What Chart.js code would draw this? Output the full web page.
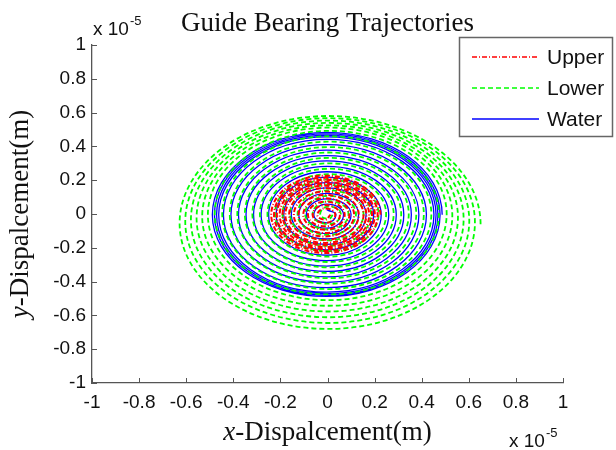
<!DOCTYPE html>
<html>
<head>
<meta charset="utf-8">
<script src="https://cdn.jsdelivr.net/npm/chart.js@4.4.1/dist/chart.umd.min.js"></script>
<style>
  html, body { margin: 0; padding: 0; background: #fff; }
  #wrap { width: 616px; height: 450px; }
</style>
</head>
<body>
<div id="wrap"><canvas id="trajChart" width="616" height="450"></canvas></div>
<script>
// axis ticks (units of 1e-5 m)
const tickVals = [-1, -0.8, -0.6, -0.4, -0.2, 0, 0.2, 0.4, 0.6, 0.8, 1];

const seriesNames = ['Upper', 'Lower', 'Water'];
const seriesColors = ['#ff0000', '#00ff00', '#0000ff'];

// trajectories, one point per quarter turn
const upper = [
    [-0.01,-0.242],
    [0.225,-0.005],[-0.01,0.227],[-0.239,-0.005],[-0.01,-0.231],
    [0.213,-0.005],[-0.01,0.215],[-0.227,-0.005],[-0.01,-0.219],
    [0.201,-0.005],[-0.01,0.203],[-0.215,-0.005],[-0.01,-0.207],
    [0.189,-0.005],[-0.01,0.191],[-0.203,-0.005],[-0.01,-0.195],
    [0.177,-0.005],[-0.01,0.179],[-0.191,-0.005],[-0.01,-0.183],
    [0.165,-0.005],[-0.01,0.167],[-0.179,-0.005],[-0.01,-0.171],
    [0.153,-0.005],[-0.01,0.153],[-0.163,-0.005],[-0.01,-0.153],
    [0.133,-0.005],[-0.01,0.133],[-0.143,-0.005],[-0.01,-0.133],
    [0.113,-0.005],[-0.01,0.113],[-0.123,-0.005],[-0.01,-0.113],
    [0.093,-0.005],[-0.01,0.093],[-0.103,-0.005],[-0.01,-0.093],
    [0.073,-0.005],[-0.01,0.073],[-0.083,-0.005],[-0.01,-0.073],
    [0.053,-0.005],[-0.01,0.053],[-0.063,-0.005],[-0.01,-0.053],
    [0.033,-0.005],[-0.01,0.033],[-0.043,-0.005],[-0.01,-0.033],
    [0.013,-0.005]
];

const lower = [
    [0.005,-0.69],
    [0.65,-0.06],[0.005,0.58],[-0.628,-0.055],[0.005,-0.68],
    [0.626,-0.05],[0.005,0.567],[-0.604,-0.045],[0.005,-0.645],
    [0.602,-0.04],[0.005,0.553],[-0.58,-0.035],[0.005,-0.611],
    [0.578,-0.03],[0.005,0.539],[-0.556,-0.025],[0.005,-0.577],
    [0.554,-0.02],[0.005,0.525],[-0.532,-0.015],[0.005,-0.543],
    [0.53,-0.01],[0.005,0.511],[-0.508,-0.005],[0.005,-0.51],
    [0.506,0],[0.005,0.492],[-0.479,0],[0.005,-0.476],
    [0.473,0],[0.005,0.46],[-0.447,0],[0.005,-0.444],
    [0.441,0],[0.005,0.428],[-0.415,0],[0.005,-0.412],
    [0.409,0],[0.005,0.396],[-0.383,0],[0.005,-0.38],
    [0.377,0],[0.005,0.364],[-0.351,0],[0.005,-0.348],
    [0.345,0],[0.005,0.332],[-0.319,0],[0.005,-0.316],
    [0.313,0],[0.005,0.3],[-0.287,0],[0.005,-0.284],
    [0.281,0],[0.005,0.268],[-0.255,0],[0.005,-0.252],
    [0.249,0],[0.005,0.236],[-0.223,0],[0.005,-0.22],
    [0.217,0],[0.005,0.204],[-0.191,0],[0.005,-0.188],
    [0.185,0],[0.005,0.172],[-0.159,0],[0.005,-0.156],
    [0.153,0],[0.005,0.14],[-0.127,0],[0.005,-0.124],
    [0.121,0],[0.005,0.108],[-0.095,0],[0.005,-0.092],
    [0.089,0],[0.005,0.076],[-0.063,0],[0.005,-0.06],
    [0.057,0],[0.005,0.044],[-0.031,0],[0.005,-0.028],
    [0.025,0]
];

const water = [
    [-0.003,-0.494],
    [0.487,-0.005],[-0.003,0.483],[-0.489,-0.005],[-0.003,-0.488],
    [0.478,-0.005],[-0.003,0.474],[-0.48,-0.005],[-0.003,-0.48],
    [0.469,-0.005],[-0.003,0.465],[-0.471,-0.005],[-0.003,-0.471],
    [0.461,-0.005],[-0.003,0.456],[-0.462,-0.005],[-0.003,-0.462],
    [0.452,-0.005],[-0.003,0.442],[-0.442,-0.005],[-0.003,-0.436],
    [0.42,-0.005],[-0.003,0.41],[-0.41,-0.005],[-0.003,-0.404],
    [0.388,-0.005],[-0.003,0.378],[-0.378,-0.005],[-0.003,-0.372],
    [0.356,-0.005],[-0.003,0.346],[-0.346,-0.005],[-0.003,-0.34],
    [0.324,-0.005],[-0.003,0.314],[-0.314,-0.005],[-0.003,-0.308],
    [0.292,-0.005],[-0.003,0.282],[-0.282,-0.005],[-0.003,-0.276],
    [0.26,-0.005],[-0.003,0.25],[-0.25,-0.005],[-0.003,-0.244],
    [0.228,-0.005],[-0.003,0.218],[-0.218,-0.005],[-0.003,-0.212],
    [0.196,-0.005],[-0.003,0.186],[-0.186,-0.005],[-0.003,-0.18],
    [0.164,-0.005],[-0.003,0.154],[-0.154,-0.005],[-0.003,-0.148],
    [0.132,-0.005],[-0.003,0.122],[-0.122,-0.005],[-0.003,-0.116],
    [0.10,-0.005],[-0.003,0.09],[-0.09,-0.005],[-0.003,-0.084],
    [0.068,-0.005],[-0.003,0.058],[-0.058,-0.005],[-0.003,-0.052],
    [0.036,-0.005],[-0.003,0.026]
];

const toXY = pts => pts.map(p => ({ x: p[0], y: p[1] }));

const SANS = '"Liberation Sans", Arial, sans-serif';
const SERIF = '"Liberation Serif", "Times New Roman", serif';
const AXIS = '#555';

// the lead-in point only sets the start tangent, its segment stays hidden
const hideLeadIn = { borderColor: c => (c.p0DataIndex === 0 ? 'rgba(0,0,0,0)' : undefined) };

// inward ticks, titles, exponent labels and boxed legend
const decor = {
    id: 'decor',
    afterDraw(chart) {
        const { ctx, chartArea: a, scales: { x, y } } = chart;
        ctx.save();

        ctx.strokeStyle = AXIS;
        ctx.lineWidth = 1;
        ctx.beginPath();
        x.ticks.forEach(t => {
            const px = Math.round(x.getPixelForValue(t.value)) + 0.5;
            ctx.moveTo(px, a.bottom);
            ctx.lineTo(px, a.bottom - 5);
        });
        y.ticks.forEach(t => {
            const py = Math.round(y.getPixelForValue(t.value)) + 0.5;
            ctx.moveTo(a.left, py);
            ctx.lineTo(a.left + 5, py);
        });
        ctx.stroke();

        ctx.fillStyle = '#111';
        ctx.textBaseline = 'alphabetic';

        // title
        ctx.font = '27px ' + SERIF;
        ctx.textAlign = 'center';
        ctx.fillText('Guide Bearing Trajectories', (a.left + a.right) / 2, 31);

        // axis titles: italic letter + regular rest
        const drawAxisTitle = (letter, rest) => {
            ctx.font = 'italic 27px ' + SERIF;
            const w1 = ctx.measureText(letter).width;
            ctx.font = '27px ' + SERIF;
            const w2 = ctx.measureText(rest).width;
            const x0 = -(w1 + w2) / 2;
            ctx.textAlign = 'left';
            ctx.font = 'italic 27px ' + SERIF;
            ctx.fillText(letter, x0, 0);
            ctx.font = '27px ' + SERIF;
            ctx.fillText(rest, x0 + w1, 0);
        };
        ctx.save();
        ctx.translate((a.left + a.right) / 2, 440);
        drawAxisTitle('x', '-Dispalcement(m)');
        ctx.restore();

        ctx.save();
        ctx.translate(28, (a.top + a.bottom) / 2);
        ctx.rotate(-Math.PI / 2);
        drawAxisTitle('y', '-Dispalcement(m)');
        ctx.restore();

        // exponent labels
        const drawExp = (x0, base) => {
            ctx.textAlign = 'left';
            ctx.font = '19px ' + SANS;
            ctx.fillText('x 10', x0, base);
            const w = ctx.measureText('x 10').width;
            ctx.font = '13px ' + SANS;
            ctx.fillText('-5', x0 + w + 1, base - 10);
        };
        drawExp(93, 35);
        drawExp(509, 447);

        // legend
        const lx = 459, ly = 37, lw = 154, lh = 100;
        ctx.fillStyle = '#fff';
        ctx.fillRect(lx, ly, lw, lh);
        ctx.strokeStyle = '#666';
        ctx.lineWidth = 1.5;
        ctx.strokeRect(lx + 0.5, ly + 0.5, lw - 1, lh - 1);
        const dashes = [[5, 2, 1, 2], [5, 3], []];
        seriesNames.forEach((name, i) => {
            const ey = 57 + i * 31;
            ctx.strokeStyle = seriesColors[i];
            ctx.lineWidth = 1.5;
            ctx.setLineDash(dashes[i]);
            ctx.beginPath();
            ctx.moveTo(472, ey);
            ctx.lineTo(539, ey);
            ctx.stroke();
            ctx.setLineDash([]);
            ctx.fillStyle = '#111';
            ctx.font = '21px ' + SANS;
            ctx.textAlign = 'left';
            ctx.textBaseline = 'middle';
            ctx.fillText(name, 547, ey + 1);
        });

        ctx.restore();
    }
};

const axisOpts = {
    type: 'linear',
    min: -1,
    max: 1,
    afterBuildTicks: s => { s.ticks = tickVals.map(v => ({ value: v })); },
    grid: { display: false, drawTicks: false },
    border: { display: true, color: AXIS, width: 1.3 },
    ticks: {
        color: '#111',
        font: { family: SANS, size: 19 },
        callback: v => String(+v.toFixed(1))
    }
};

new Chart(document.getElementById('trajChart'), {
    type: 'scatter',
    data: {
        datasets: [{
            label: seriesNames[0],
            data: toXY(upper),
            showLine: true,
            borderColor: seriesColors[0],
            borderWidth: 2,
            borderDash: [5, 2, 1, 2],
            pointRadius: 0,
            tension: 0.55,
            segment: hideLeadIn
        }, {
            label: seriesNames[1],
            data: toXY(lower),
            showLine: true,
            borderColor: seriesColors[1],
            borderWidth: 1.8,
            borderDash: [5, 3],
            pointRadius: 0,
            tension: 0.55,
            segment: hideLeadIn
        }, {
            label: seriesNames[2],
            data: toXY(water),
            showLine: true,
            borderColor: seriesColors[2],
            borderWidth: 1.3,
            pointRadius: 0,
            tension: 0.55,
            segment: hideLeadIn
        }]
    },
    options: {
        responsive: false,
        animation: false,
        layout: { padding: { top: 45, right: 53, left: 0, bottom: 0 } },
        plugins: {
            legend: { display: false },
            tooltip: { enabled: false }
        },
        scales: {
            x: {
                ...axisOpts,
                ticks: { ...axisOpts.ticks, padding: 8, maxRotation: 0, autoSkip: false },
                afterFit: s => { s.height = 67; }
            },
            y: {
                ...axisOpts,
                ticks: { ...axisOpts.ticks, padding: 6, autoSkip: false },
                afterFit: s => { s.width = 92; }
            }
        }
    },
    plugins: [decor]
});
</script>
</body>
</html>
